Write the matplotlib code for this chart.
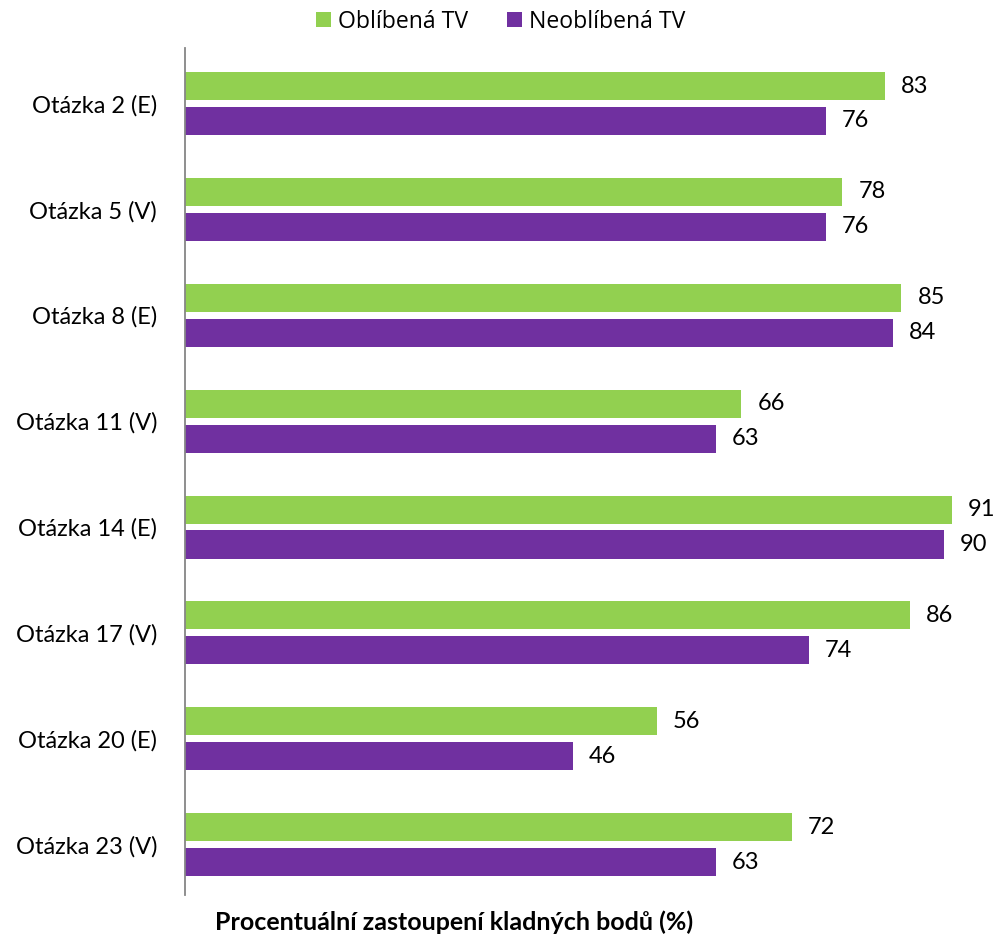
import numpy as np
import matplotlib
matplotlib.use("Agg")
import matplotlib.pyplot as plt

plt.rcParams['font.family'] = ['Lato', 'DejaVu Sans']

# data
questions = ["Otázka 2 (E)", "Otázka 5 (V)", "Otázka 8 (E)", "Otázka 11 (V)",
             "Otázka 14 (E)", "Otázka 17 (V)", "Otázka 20 (E)", "Otázka 23 (V)"]
oblibena = [83, 78, 85, 66, 91, 86, 56, 72]
neoblibena = [76, 76, 84, 63, 90, 74, 46, 63]

green = "#92D050"
purple = "#7030A0"

fig = plt.figure(figsize=(10.01, 9.36), dpi=100)
ax = fig.add_axes([0.1848, 0.0438, 0.80, 0.905])

y = np.arange(len(questions))
off = 0.165
h = 0.265
b1 = ax.barh(y - off, oblibena, height=h, color=green, label="Oblíbená TV")
b2 = ax.barh(y + off, neoblibena, height=h, color=purple, label="Neoblíbená TV")

for bars, vals in ((b1, oblibena), (b2, neoblibena)):
    for bar, v in zip(bars, vals):
        ax.text(v + 1.9, bar.get_y() + bar.get_height() / 2, str(v),
                va="center", ha="left", fontsize=17, color="black")

ax.set_xlim(0, 95)
ax.set_ylim(len(questions) - 0.525, -0.525)
ax.set_yticks(y)
ax.set_yticklabels(questions, fontsize=17)
ax.tick_params(axis="y", length=0, pad=20)
ax.set_xticks([])
for s in ["top", "right", "bottom"]:
    ax.spines[s].set_visible(False)
ax.spines["left"].set_color("#868686")
ax.spines["left"].set_linewidth(1.3)

fig.legend(handles=[b1, b2], loc="center", bbox_to_anchor=(0.5, 0.977), ncol=2,
           frameon=False, prop={"family": "Open Sans", "size": 16.6},
           handlelength=0.65, handleheight=0.65, handletextpad=0.3, columnspacing=1.7)

fig.text(0.454, 0.015, "Procentuální zastoupení kladných bodů (%)",
         ha="center", va="center", fontsize=18, fontweight="bold")

fig.savefig("out.png", dpi=100)
